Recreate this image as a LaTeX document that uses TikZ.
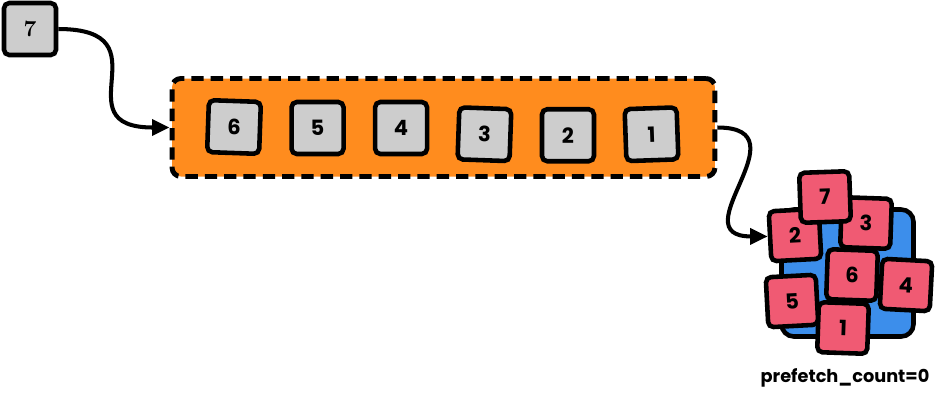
\documentclass[tikz,border=0pt]{standalone}
\usepackage{fontspec}
\newfontfamily\poppins{Poppins}
\usetikzlibrary{positioning}
\usetikzlibrary{arrows.meta}
\definecolor{qorange}{RGB}{255,140,30}
\definecolor{msggrey}{RGB}{205,205,205}
\definecolor{msgred}{RGB}{240,90,115}
\definecolor{cblue}{RGB}{60,142,235}

\begin{document}
\begin{tikzpicture}[x=0.02cm, y=-0.02cm, node distance={5.4mm}, line width=2.6pt,
    msg/.style = {draw, rounded corners=3pt, inner sep=0pt, font=\poppins\bfseries\fontsize{12}{14}\selectfont},
    waiting/.style = {msg, fill=msggrey, minimum size=1.04cm},
    unacked/.style = {msg, fill=msgred, minimum size=1.0cm},
    flow/.style = {-{Triangle[length=10pt,width=9pt]}, line width=2.3pt}]
    \useasboundingbox (0,0) rectangle (936,414);
    % queue and the message that is about to be published
    \node[draw, dashed, dash pattern=on 7pt off 4pt, line width=2.8pt, fill=qorange, rounded corners=5pt, minimum width=10.86cm, minimum height=1.96cm] (queue) at (443.5,127.5) {};
    \node[waiting, font=\bfseries\fontsize{13}{15}\selectfont] (7) at (30,29) {7};
    \node[waiting, rotate=-2] (6) at (234,127) {6};
    \node[waiting] (5) [right=of 6] {5};
    \node[waiting] (4) [right=of 5] {4};
    \node[waiting, rotate=-2] (3) [right=of 4, yshift=-3pt] {3};
    \node[waiting] (2) [right=of 3] {2};
    \node[waiting, rotate=2] (1) [right=of 2] {1};
    % consumer with all messages in flight
    \node[draw, fill=cblue, rounded corners=7pt, minimum width=2.64cm, minimum height=2.54cm] (consumer) at (847.5,273) {};
    \node[unacked, rotate=3] (r2) at (795,235) {2};
    \node[unacked, rotate=-2] (r3) at (866,223) {3};
    \node[unacked, rotate=2] (r7) at (825,197) {7};
    \node[unacked, rotate=-2] (r6) at (852,275) {6};
    \node[unacked, rotate=-3] (r4) at (906,285) {4};
    \node[unacked, rotate=3] (r5) at (792,301) {5};
    \node[unacked, rotate=-2] (r1) at (843,328) {1};
    \node[font=\poppins\bfseries\fontsize{10.1}{12}\selectfont] (prefetch) at (845,378) {prefetch\_count=0};
    \draw[flow] (7) to[out=0, in=180, looseness=1.9] (queue.west);
    \draw[flow] (queue.east) to[out=0, in=180, looseness=1.9] (r2.west);
\end{tikzpicture}
\end{document}
